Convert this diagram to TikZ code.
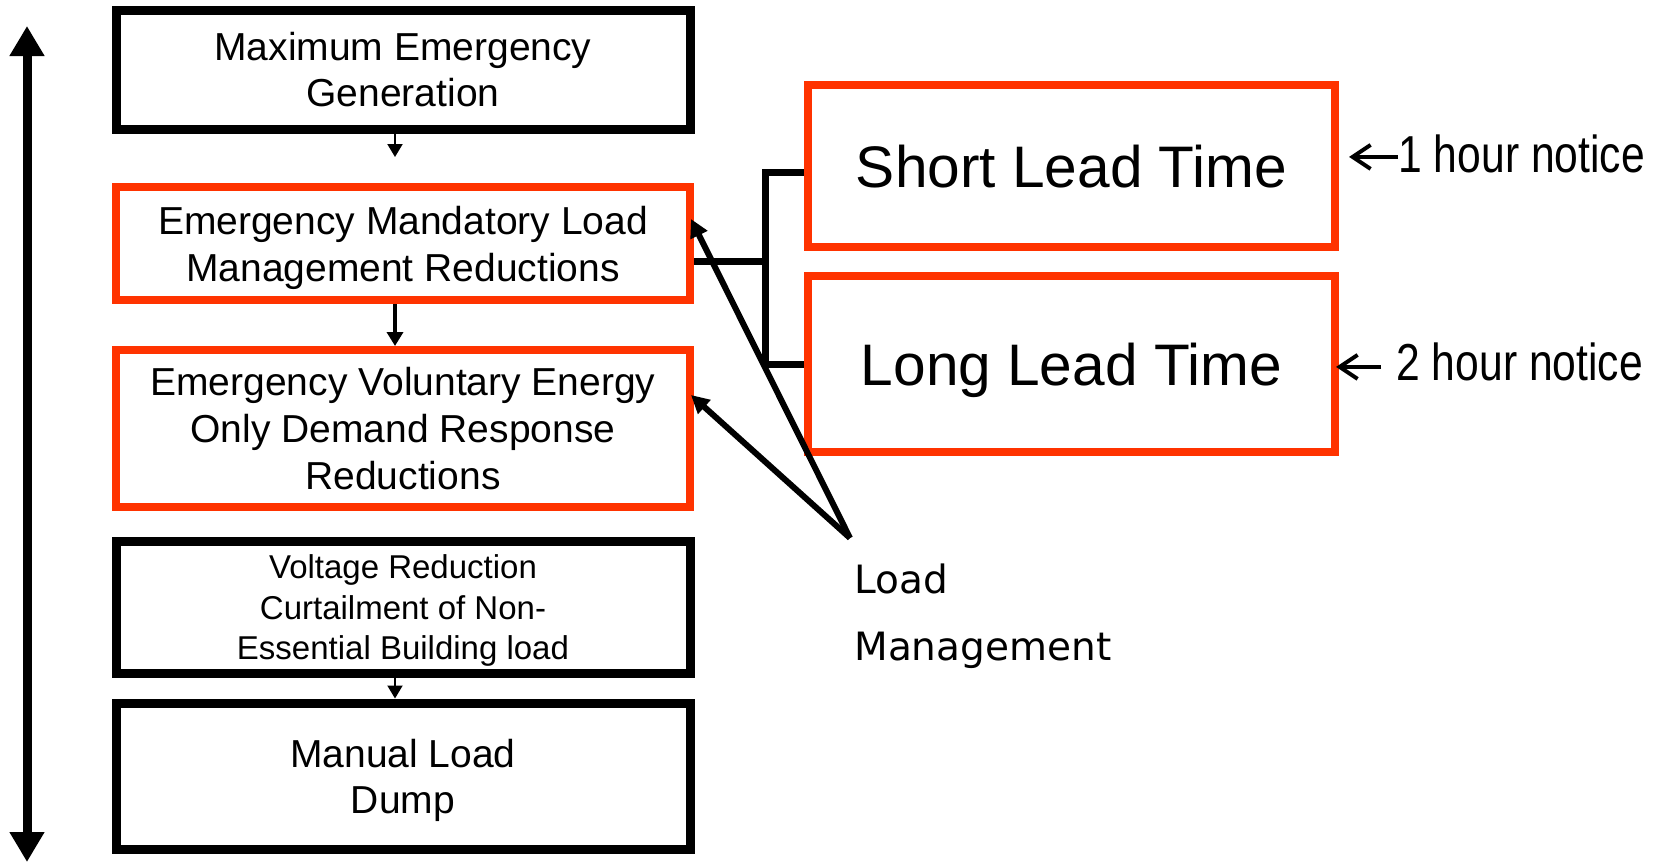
\documentclass[tikz,border=0pt]{standalone}
\usepackage{fontspec}
\setmainfont{Liberation Sans}
\newfontfamily\lmfont{DejaVu Sans}
\usepackage{graphicx}
\usetikzlibrary{arrows.meta,calc}
\definecolor{boxred}{RGB}{255,51,0}
\newcommand\btxt[1]{\begin{tabular}[t]{@{}c@{}}#1\end{tabular}}
\begin{document}
\begin{tikzpicture}[x=0.5pt,y=-0.5pt,
  blackbox/.style={draw=black,line width=4.5pt,minimum width=287pt,inner sep=0pt,
    text height=14.2pt},
  redbox/.style={blackbox,draw=boxred,line width=4pt},
  thinarrow/.style={line width=1pt,-{Triangle[length=6.5pt,width=7.5pt]}},
  midarrow/.style={line width=1.75pt,-{Triangle[length=7pt,width=8pt]}},
  bigarrow/.style={line width=4.5pt,{Triangle[length=15pt,width=16.5pt]}-{Triangle[length=15pt,width=16.5pt]}},
  lmarrow/.style={line width=3pt,-{Triangle[length=9pt,width=9pt]}},
  notearrow/.style={line width=2pt,-{Straight Barb[length=9pt,width=12pt]}},
  bracket/.style={line width=3.5pt,line join=miter},
  notetext/.style={anchor=base west,inner sep=0pt,font=\fontsize{26pt}{30pt}\selectfont}]
\useasboundingbox (0,0) rectangle (1656,862);

% left double arrow
\coordinate (vtop) at (27,26);
\coordinate (vbot) at (27,862);
\draw[bigarrow] (vtop) -- (vbot);

% left column
\node[blackbox,minimum height=59.5pt,text depth=22.8pt,font=\fontsize{19.5pt}{22.8pt}\selectfont]
  (b1) at (403,69.5) {\btxt{Maximum Emergency\\Generation}};
\node[redbox,minimum height=56.5pt,text depth=23.7pt,font=\fontsize{19.5pt}{23.7pt}\selectfont]
  (b2) at (403,243.5) {\btxt{Emergency Mandatory Load\\Management Reductions}};
\node[redbox,minimum height=78.5pt,text depth=47pt,font=\fontsize{19.5pt}{23.5pt}\selectfont]
  (b3) at (403,428.5) {\btxt{Emergency Voluntary Energy\\Only Demand Response\\Reductions}};
\node[blackbox,minimum height=66pt,text height=12pt,text depth=40.6pt,font=\fontsize{16.5pt}{20.3pt}\selectfont]
  (b4) at (403,607) {\btxt{Voltage Reduction\\Curtailment of Non-\\Essential Building load}};
\node[blackbox,minimum height=73pt,text depth=23.2pt,font=\fontsize{19.5pt}{23.2pt}\selectfont]
  (b5) at (403,776) {\btxt{Manual Load\\Dump}};

\draw[thinarrow,shorten >=13pt] ([xshift=-4pt]b1.south) -- ([xshift=-4pt]b2.north);
\draw[midarrow] ([xshift=-4pt]b2.south) -- ([xshift=-4pt]b3.north);
\draw[thinarrow] ([xshift=-4pt]b4.south) -- ([xshift=-4pt]b5.north);

% right boxes
\node[redbox,minimum width=263.5pt,minimum height=81pt,text height=21.2pt,text depth=0pt,
  font=\fontsize{29.3pt}{34pt}\selectfont] (short) at (1071.5,166) {Short Lead Time};
\node[redbox,minimum width=263.5pt,minimum height=88pt,text height=21.2pt,text depth=0pt,
  font=\fontsize{29.3pt}{34pt}\selectfont] (long) at (1071.5,364) {Long Lead Time};

% bracket
\coordinate (jt) at (765,172);
\coordinate (jm) at (765,261);
\coordinate (jb) at (765,364);
\draw[bracket] (jt -| short.west) -- (jt) -- (jb) -- (jb -| long.west);
\draw[bracket] (jm -| b2.east) -- (jm);

% notices
\node[notetext] (n1) at (1398,172) {\scalebox{0.82}[1]{1 hour notice}};
\node[notetext] (n2) at (1396,380) {\scalebox{0.82}[1]{2 hour notice}};
\coordinate (a1) at ([yshift=-1.75pt]n1.west);
\coordinate (a2) at ([yshift=-2.75pt]n2.west);
\draw[notearrow,shorten >=5pt] (a1) -- (a1 -| short.east);
\draw[notearrow,shorten <=7.5pt,shorten >=-1.5pt] (a2) -- (a2 -| long.east);

% load management
\node[anchor=north west,inner sep=0pt,align=left,font=\lmfont\fontsize{19.5pt}{33.5pt}\selectfont]
  (lm) at (854,563) {Load\\Management};
\coordinate (lmo) at (850,538);
\coordinate (t1) at (691,219);
\coordinate (t2) at (691,395);
\draw[lmarrow] (lmo) -- (t1);
\draw[lmarrow] (lmo) -- (t2);
\end{tikzpicture}
\end{document}
